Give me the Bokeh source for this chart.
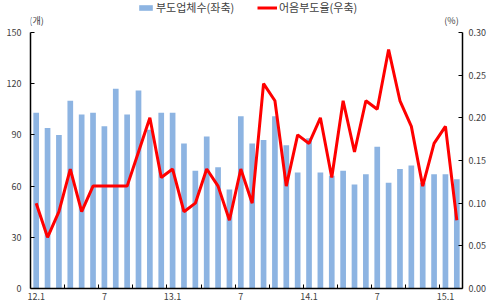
from bokeh.plotting import figure
from bokeh.models import (Range1d, LinearAxis, FixedTicker, PrintfTickFormatter,
                          Legend, LegendItem, Label, ColumnDataSource)
from bokeh.embed import file_html
from bokeh.resources import INLINE

# ---- data ----
months = [f"{y}.{m}" for y in (12, 13, 14) for m in range(1, 13)] + ["15.1", "15.2"]
counts = [103, 94, 90, 110, 102, 103, 95, 117, 102, 116,
          93, 103, 103, 85, 69, 89, 71, 58, 101, 85,
          87, 101, 84, 68, 88, 68, 66, 69, 61, 67,
          83, 62, 70, 72, 62, 67, 67, 64]
rates = [0.10, 0.06, 0.09, 0.14, 0.09, 0.12, 0.12, 0.12, 0.12, 0.16,
         0.20, 0.13, 0.14, 0.09, 0.10, 0.14, 0.12, 0.08, 0.14, 0.10,
         0.24, 0.22, 0.12, 0.18, 0.17, 0.20, 0.13, 0.22, 0.16, 0.22,
         0.21, 0.28, 0.22, 0.19, 0.12, 0.17, 0.19, 0.08]
tick_labels = {0: "12.1", 6: "7", 12: "13.1", 18: "7", 24: "14.1", 30: "7", 36: "15.1"}
left_ticks = [0, 30, 60, 90, 120, 150]
right_ticks = [0.0, 0.05, 0.10, 0.15, 0.20, 0.25, 0.30]
legend_bar = "부도업체수(좌축)"
legend_line = "어음부도율(우축)"

idx = list(range(len(months)))
src = ColumnDataSource(dict(x=idx, month=months, count=counts, rate=rates))

FONT = "Noto Sans CJK KR"
TXT = "#404040"

# frame reaches the top of the canvas so that the legend and unit labels are inside it
TOP_L = 150 * 288 / 256
TOP_R = 0.30 * 288 / 256

p = figure(width=500, height=308, output_backend="svg", toolbar_location=None,
           x_range=Range1d(-0.5, len(months) - 0.5), y_range=Range1d(0, TOP_L),
           min_border_left=30, min_border_right=38, min_border_top=0, min_border_bottom=20)
p.outline_line_color = None
p.xgrid.visible = False
p.ygrid.visible = False
p.background_fill_color = "white"
p.border_fill_color = "white"

p.extra_y_ranges = {"r": Range1d(0, TOP_R)}

bars = p.vbar(x="x", top="count", width=0.5, source=src, color="#8DB4E2", line_color=None)
line = p.line(x="x", y="rate", source=src, y_range_name="r", line_color="#FF0000", line_width=3)

# x axis
xa = p.xaxis[0]
xa.ticker = FixedTicker(ticks=sorted(tick_labels.keys()),
                        minor_ticks=[i + 2.5 for i in range(0, len(months) - 3, 3)])
xa.major_label_overrides = tick_labels
xa.major_tick_in = 0
xa.major_tick_out = 0
xa.minor_tick_in = 4
xa.minor_tick_out = 0
xa.minor_tick_line_color = "black"
xa.axis_line_color = "black"
xa.axis_line_width = 1.5
xa.major_label_standoff = 4
xa.major_label_text_font = FONT
xa.major_label_text_font_size = "9px"
xa.major_label_text_color = TXT

# left axis
ya = p.yaxis[0]
ya.ticker = FixedTicker(ticks=left_ticks)
ya.bounds = (0, 150)
ya.major_tick_in = 4
ya.major_tick_out = 0
ya.minor_tick_line_color = None
ya.axis_line_color = "black"
ya.axis_line_width = 1.5
ya.major_label_standoff = 9
ya.major_label_text_font = FONT
ya.major_label_text_font_size = "9px"
ya.major_label_text_color = TXT

# right axis
ra = LinearAxis(y_range_name="r", ticker=FixedTicker(ticks=right_ticks),
                formatter=PrintfTickFormatter(format="%.2f"))
ra.bounds = (0, 0.30)
ra.major_tick_in = 4
ra.major_tick_out = 0
ra.minor_tick_line_color = None
ra.axis_line_color = "black"
ra.axis_line_width = 1.5
ra.major_label_standoff = 6
ra.major_label_text_font = FONT
ra.major_label_text_font_size = "9px"
ra.major_label_text_color = TXT
p.add_layout(ra, "right")

# unit labels
p.add_layout(Label(x=-0.6, y=153, text="(개)", text_font=FONT, text_font_size="9px",
                   text_color=TXT, text_baseline="bottom", text_align="left"))
p.add_layout(Label(x=35.9, y=153, text="(%)", text_font=FONT, text_font_size="9px",
                   text_color=TXT, text_baseline="bottom", text_align="left"))

# legends
def mk_legend(item, loc, gw):
    return Legend(items=[item], location=loc, orientation="horizontal",
                  background_fill_alpha=0, border_line_color=None,
                  glyph_width=gw, glyph_height=7, label_standoff=2,
                  padding=0, margin=0, spacing=0,
                  label_text_font=FONT, label_text_font_size="11px",
                  label_text_color=TXT, label_height=10)

p.add_layout(mk_legend(LegendItem(label=legend_bar, renderers=[bars]), (107, 273), 17))
p.add_layout(mk_legend(LegendItem(label=legend_line, renderers=[line]), (227, 273), 20))

open("out.html", "w").write(file_html(p, INLINE))
